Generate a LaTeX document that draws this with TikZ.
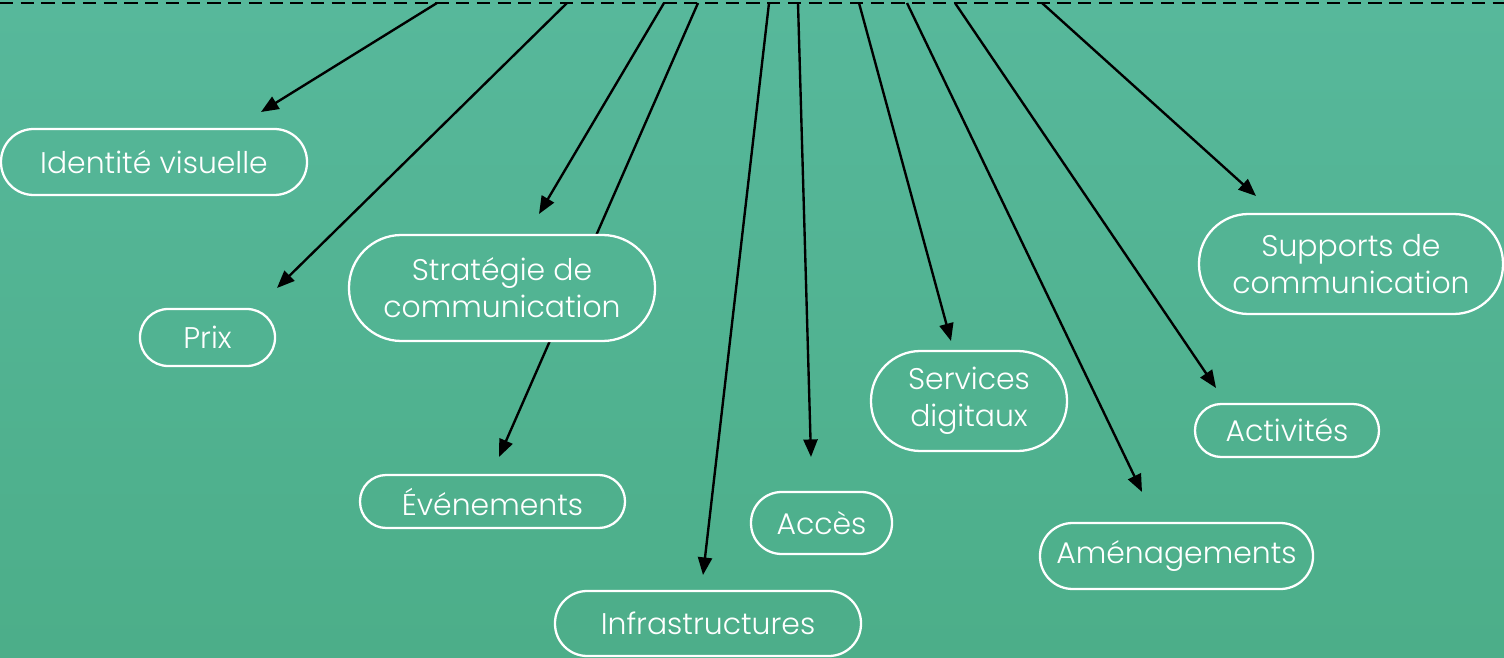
\documentclass[tikz,border=0pt]{standalone}
\usepackage{fontspec}
\IfFontExistsTF{Poppins Light}
  {\setmainfont{Poppins Light}}
  {\IfFontExistsTF{Lato Light}{\setmainfont{Lato Light}}{\setmainfont{Poppins}}}
\usetikzlibrary{arrows.meta}

\definecolor{bgtop}{RGB}{87,184,155}
\definecolor{bgbot}{RGB}{76,174,137}

\tikzset{
  pill/.style args={#1/#2/#3}{
    draw=white, line width=1.3pt, text=white, align=center,
    fill=bgbot!#3!bgtop,
    minimum width=#1*0.02cm, minimum height=#2*0.02cm,
    rounded corners=#2*0.0099cm, inner sep=0pt,
    font=\fontsize{17}{21}\selectfont},
  link/.style={line width=1.35pt, draw=black,
    -{Triangle[length=10pt, width=8pt]}},
  topline/.style={line width=1.35pt, draw=black, dash pattern=on 7.5pt off 4.3pt}
}

\begin{document}
\begin{tikzpicture}[x=0.02cm, y=-0.02cm]
  % background
  \shade[top color=bgtop, bottom color=bgbot] (0,0) rectangle (1504,658);
  \useasboundingbox (0,0) rectangle (1504,658);

  % dashed reference line along the top edge
  \coordinate (L) at (0,3);
  \coordinate (R) at (1504,3);
  \draw[topline] (L) -- (R);

  % start points on the line
  \coordinate (s1)  at (437,3);
  \coordinate (s2)  at (567,3);
  \coordinate (s3)  at (664,3);
  \coordinate (s4)  at (698,3);
  \coordinate (s5)  at (769,3);
  \coordinate (s6)  at (798,3);
  \coordinate (s7)  at (859,3);
  \coordinate (s8)  at (907,3);
  \coordinate (s9)  at (955,3);
  \coordinate (s10) at (1042,3);

  % arrow tips
  \coordinate (e1)  at (261,112);
  \coordinate (e2)  at (277,288);
  \coordinate (e3)  at (539,214);
  \coordinate (e4)  at (499,457);
  \coordinate (e5)  at (703,575);
  \coordinate (e6)  at (811,457);
  \coordinate (e7)  at (951,341);
  \coordinate (e8)  at (1142,492);
  \coordinate (e9)  at (1216,388);
  \coordinate (e10) at (1256,196);

  \foreach \i in {1,...,10} {
    \draw[link] (s\i) -- (e\i);
  }

  % topics
  \node[pill=306/66/25]  (ident)  at (154,162)    {Identité visuelle};
  \node[pill=135/57/51]  (prix)   at (207.5,337.5) {Prix};
  \node[pill=306/106/44] (strat)  at (502,288)    {Stratégie de\\communication};
  \node[pill=265/53/76]  (event)  at (492.5,501.5) {Événements};
  \node[pill=306/65/95]  (infra)  at (708,623.5)  {Infrastructures};
  \node[pill=141/62/79]  (acces)  at (821.5,523)  {Accès};
  \node[pill=196/100/61] (digit)  at (969,401)    {Services\\digitaux};
  \node[pill=273/66/84]  (amen)   at (1176.5,556) {Aménagements};
  \node[pill=184/53/65]  (activ)  at (1287,430.5) {Activités};
  \node[pill=304/100/40] (supp)   at (1351,264)   {Supports de\\communication};
\end{tikzpicture}
\end{document}
